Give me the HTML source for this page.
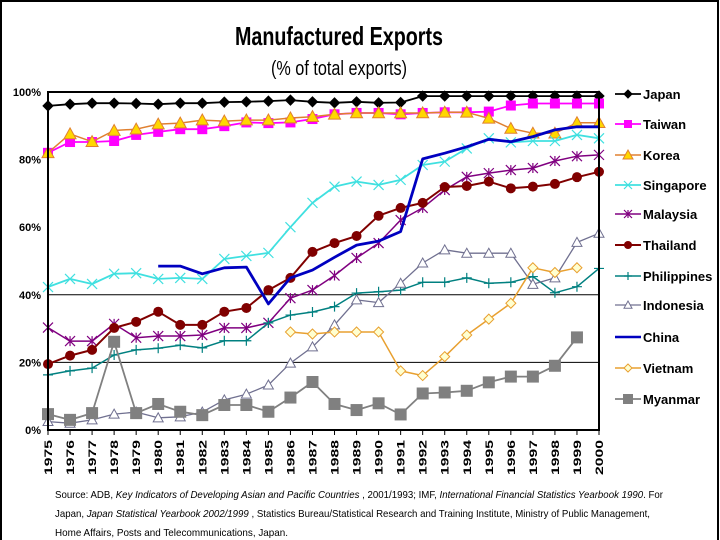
<!DOCTYPE html>
<html><head><meta charset="utf-8"><style>
html,body{margin:0;padding:0;background:#fff;}
svg{display:block;font-family:"Liberation Sans",Arial,sans-serif;}
</style></head><body>
<svg id="chart" width="720" height="540" viewBox="0 0 720 540">
<rect x="1" y="1" width="717" height="560" fill="none" stroke="#000" stroke-width="2"/>
<text x="339" y="45" text-anchor="middle" font-size="26" font-weight="bold" textLength="208" lengthAdjust="spacingAndGlyphs">Manufactured Exports</text>
<text x="339" y="75" text-anchor="middle" font-size="20" textLength="136" lengthAdjust="spacingAndGlyphs">(% of total exports)</text>
<g id="grid"></g>
<g id="series"></g>
<g id="axes"></g>
<g id="legend"></g>
<g font-size="10.5">
<text x="55" y="498" textLength="608" lengthAdjust="spacingAndGlyphs">Source: ADB, <tspan font-style="italic">Key Indicators of Developing Asian and Pacific Countries</tspan> , 2001/1993; IMF, <tspan font-style="italic">International Financial Statistics Yearbook 1990</tspan>. For</text>
<text x="55" y="517" textLength="595" lengthAdjust="spacingAndGlyphs">Japan, <tspan font-style="italic">Japan Statistical Yearbook 2002/1999</tspan> , Statistics Bureau/Statistical Research and Training Institute, Ministry of Public Management,</text>
<text x="55" y="536" textLength="233" lengthAdjust="spacingAndGlyphs">Home Affairs, Posts and Telecommunications, Japan.</text>
</g>
</svg>
<script>
const years = [1975,1976,1977,1978,1979,1980,1981,1982,1983,1984,1985,1986,1987,1988,1989,1990,1991,1992,1993,1994,1995,1996,1997,1998,1999,2000];
const yTicks = [0,20,40,60,80,100];
const yTickLabels = ["0%","20%","40%","60%","80%","100%"];
const japan = [95.9,96.4,96.7,96.7,96.6,96.4,96.7,96.7,97,97.1,97.3,97.6,97.1,96.8,97.1,96.8,96.9,98.8,98.8,98.8,98.8,98.8,98.8,98.8,98.8,98.8];
const taiwan = [82,85.2,85.2,85.5,87.3,88.2,89,89,89.9,91,90.8,91,92,93.4,93.8,93.8,93.4,93.8,94,94,94.2,96,96.6,96.6,96.6,96.6];
const korea = [82,87.6,85.3,88.6,89,90.5,90.8,91.7,91.4,91.7,91.7,92.3,92.7,93.4,93.8,93.8,93.8,93.8,94,94,92.2,89.2,87.8,87.8,90.9,90.9];
const singapore = [42.3,44.7,43.2,46.2,46.4,44.7,45,44.7,50.6,51.5,52.4,60,67.2,72,73.5,72.5,74,78.4,79.4,83.3,86.3,85.1,85.5,85.5,87.3,86.3];
const malaysia = [30.3,26.3,26.3,31.4,27.3,27.8,27.8,28.1,30.2,30.2,31.7,39,41.4,45.7,50.9,55.3,62.1,65.7,71,74.9,76,76.9,77.5,79.6,81,81.4];
const thailand = [19.5,22,23.7,30.2,32,35,31.1,31.1,35,36.1,41.4,45,52.7,55.3,57.4,63.4,65.7,67.2,71.9,72.2,73.5,71.5,72,72.8,74.8,76.4];
const philippines = [16.3,17.5,18.3,22.2,23.7,24.2,25.1,24.3,26.4,26.4,31.7,34,34.9,36.5,40.5,40.9,41.4,43.7,43.7,45,43.4,43.7,45.4,40.6,42.4,47.8];
const indonesia = [2.5,2,3,4.7,5.3,3.6,3.9,5.3,8.9,10.6,13.3,19.8,24.6,31.1,38.5,37.7,43.4,49.4,53.3,52.3,52.3,52.3,43.1,45,55.5,58.2];
const china = [null,null,null,null,null,48.5,48.5,46.2,48,48.2,37.3,45,47.3,51.1,54.7,55.9,58.7,80.2,81.9,83.8,86,85.3,86.8,88.8,89.7,89.7];
const vietnam = [null,null,null,null,null,null,null,null,null,null,null,29,28.4,29,29,29,17.5,16.1,21.7,28.1,32.8,37.5,48,46.6,48,null];
const myanmar = [4.7,3,5,26.1,5,7.7,5.4,4.4,7.4,7.4,5.4,9.6,14.2,7.7,5.9,7.9,4.6,10.8,11.1,11.6,14.1,15.8,15.8,19,27.4,null];
const seriesNames = ["Japan","Taiwan","Korea","Singapore","Malaysia","Thailand","Philippines","Indonesia","China","Vietnam","Myanmar"];

const NS="http://www.w3.org/2000/svg";
const X0=48,X1=599,Y0=430,Y1=92;
const xScale=i=>X0+(X1-X0)*i/(years.length-1);
const yScale=v=>Y0-(Y0-Y1)*v/100;
function mk(tag,attrs,parent){const e=document.createElementNS(NS,tag);for(const k in attrs)e.setAttribute(k,attrs[k]);parent.appendChild(e);return e;}

const grid=document.getElementById('grid');
[20,40].forEach(v=>{
  const l=mk('line',{x1:X0,x2:X1,y1:yScale(v),y2:yScale(v),stroke:'#000','stroke-width':1},grid);
  
  
});

const styles=[
 {c:'#000',w:1.8,m:'diamond',f:'#000',s:5},
 {c:'#ff00ff',w:1.8,m:'square',f:'#ff00ff',s:5},
 {c:'#e08030',w:1.5,m:'triangle',f:'#ffd700',s:6},
 {c:'#40e0e0',w:1.8,m:'x',f:'none',s:5},
 {c:'#800080',w:1.5,m:'star',f:'none',s:5},
 {c:'#800000',w:2,m:'circle',f:'#800000',s:5},
 {c:'#008080',w:1.5,m:'plus',f:'none',s:5},
 {c:'#707090',w:1.3,m:'opentri',f:'#fff',s:5},
 {c:'#0000c0',w:2.8,m:'none',f:'none',s:0},
 {c:'#e8a030',w:1.5,m:'odiamond',f:'#ffffd0',s:5},
 {c:'#808080',w:1.8,m:'square',f:'#808080',s:6}
];
const data=[japan,taiwan,korea,singapore,malaysia,thailand,philippines,indonesia,china,vietnam,myanmar];

function marker(type,x,y,st,g){
  const s=st.s;
  if(type==='diamond'||type==='odiamond') return mk('polygon',{points:`${x},${y-s} ${x+s},${y} ${x},${y+s} ${x-s},${y}`,fill:st.f,stroke:st.c,'stroke-width':1},g);
  if(type==='square') return mk('rect',{x:x-s,y:y-s,width:2*s,height:2*s,fill:st.f,stroke:'none'},g);
  if(type==='triangle'||type==='opentri') return mk('polygon',{points:`${x},${y-s} ${x+s},${y+s*0.8} ${x-s},${y+s*0.8}`,fill:st.f,stroke:st.c,'stroke-width':1},g);
  if(type==='circle') return mk('circle',{cx:x,cy:y,r:s,fill:st.f},g);
  if(type==='x') return mk('path',{d:`M${x-s},${y-s}L${x+s},${y+s}M${x-s},${y+s}L${x+s},${y-s}`,stroke:st.c,'stroke-width':1.2,fill:'none'},g);
  if(type==='star') return mk('path',{d:`M${x-s},${y-s}L${x+s},${y+s}M${x-s},${y+s}L${x+s},${y-s}M${x},${y-s}L${x},${y+s}`,stroke:st.c,'stroke-width':1.2,fill:'none'},g);
  if(type==='plus') return mk('path',{d:`M${x-s},${y}L${x+s},${y}M${x},${y-s}L${x},${y+s}`,stroke:st.c,'stroke-width':1.2,fill:'none'},g);
  return null;
}

const sg=document.getElementById('series');
data.forEach((arr,k)=>{
  const st=styles[k];
  const g=mk('g',{},sg);
  
  
  let d='',pen=false;
  arr.forEach((v,i)=>{
    if(v===null){pen=false;return;}
    d+=(pen?'L':'M')+xScale(i).toFixed(1)+','+yScale(v).toFixed(1);pen=true;
  });
  const p=mk('path',{d:d,fill:'none',stroke:st.c,'stroke-width':st.w,'stroke-linejoin':'round'},g);
  
  
  arr.forEach((v,i)=>{
    if(v===null)return;
    const m=marker(st.m,xScale(i),yScale(v),st,g);
    if(m){
      
      
    }
  });
});

const ax=document.getElementById('axes');
const frame=mk('path',{d:`M${X0},${Y0}L${X0},${Y1}L${X1},${Y1}L${X1},${Y0}Z`,fill:'none',stroke:'#000','stroke-width':2},ax);


yTicks.forEach((v,i)=>{
  const t=mk('text',{x:41,y:yScale(v)+4,'text-anchor':'end','font-size':11,'font-weight':'bold'},ax);
  t.textContent=yTickLabels[i];
  
  
});
years.forEach((yr,i)=>{
  const x=xScale(i);
  const tk=mk('line',{x1:x,x2:x,y1:Y0,y2:Y0+5,stroke:'#000','stroke-width':1},ax);
  
  
  const t=mk('text',{x:0,y:0,'font-size':11,'font-weight':'bold',transform:`translate(${x+4},475) rotate(-90)`,textLength:35,lengthAdjust:'spacingAndGlyphs'},ax);
  t.textContent=yr;
  
  
});

const lg=document.getElementById('legend');
const legY=[94,124,155,185,214,245,276,305,337,368,399];
seriesNames.forEach((n,k)=>{
  const st=styles[k];
  const g=mk('g',{},lg);
  
  
  const y=legY[k];
  mk('line',{x1:615,x2:641,y1:y,y2:y,stroke:st.c,'stroke-width':Math.min(st.w,2.5)},g);
  const sst=Object.assign({},st,{s:Math.max(3,st.s-1)});
  marker(st.m,628,y,sst,g);
  const t=mk('text',{x:643,y:y+5,'font-size':13,'font-weight':'bold'},g);
  t.textContent=n;
});
</script>
</body></html>
